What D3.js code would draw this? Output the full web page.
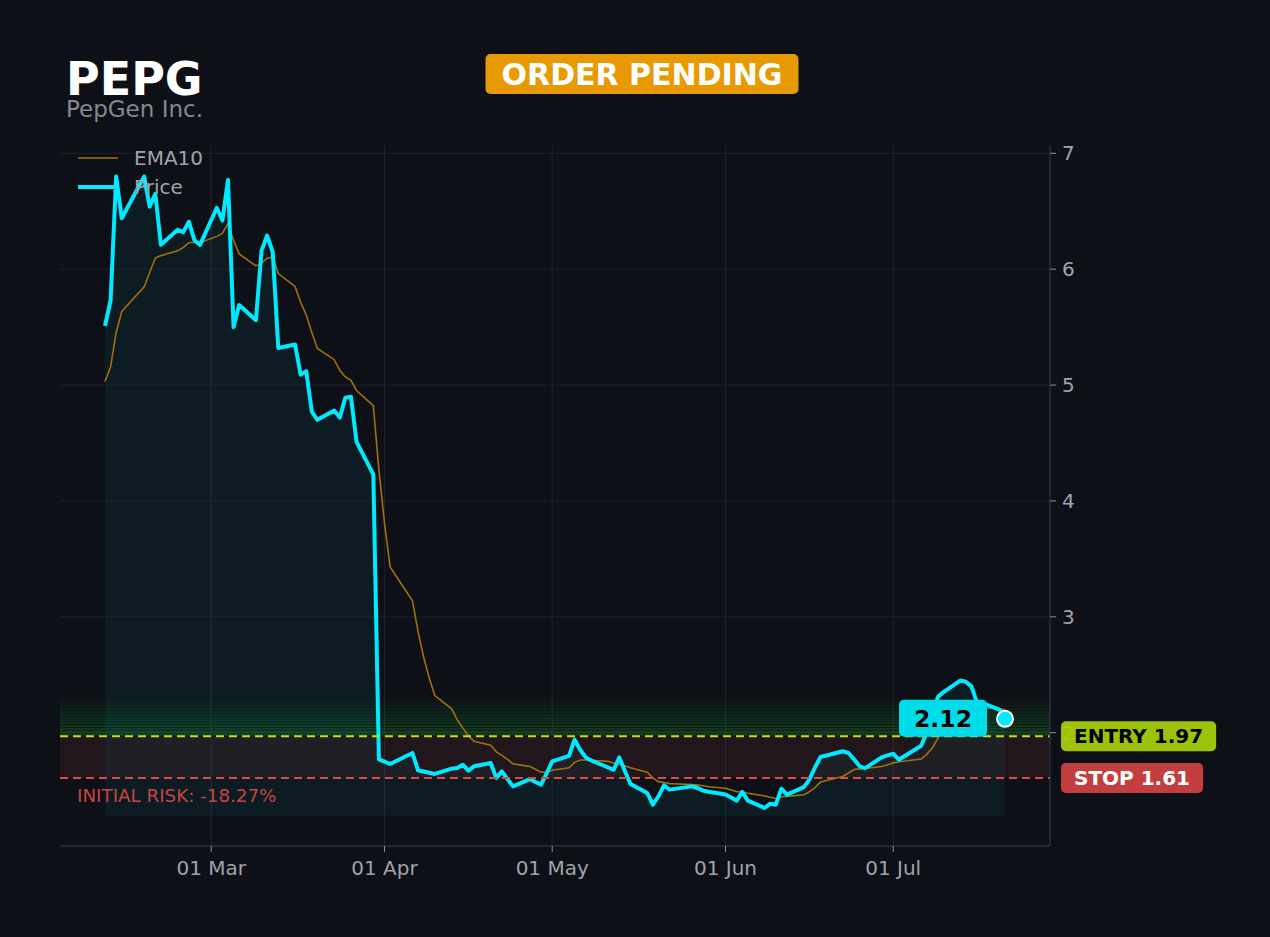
<!DOCTYPE html>
<html>
<head>
<meta charset="utf-8">
<script src="https://cdn.jsdelivr.net/npm/d3@7"></script>
<style>
  body { margin: 0; background: #0d1117; }
  svg { display: block; font-family: "DejaVu Sans", sans-serif; }
</style>
</head>
<body>
<div id="chart"></div>
<script>
// trading days, Feb 10 - Jul 21 (market holidays skipped)
const startDate = "2026-02-10";
const endDate = "2026-07-21";
const holidays = ["2026-02-16", "2026-04-03", "2026-05-25", "2026-06-19", "2026-07-03"];

const price = [
  5.51, 5.73, 6.80, 6.44,
  6.80, 6.54, 6.65, 6.21,
  6.34, 6.32, 6.41, 6.25, 6.21,
  6.53, 6.42, 6.77, 5.50, 5.69,
  5.56, 6.16, 6.29, 6.15, 5.32,
  5.35, 5.09, 5.12, 4.77, 4.70,
  4.78, 4.72, 4.89, 4.90, 4.51,
  4.23, 1.77, 1.75, 1.73,
  1.825, 1.675, 1.665, 1.655, 1.644,
  1.69, 1.695, 1.724, 1.672, 1.71,
  1.739, 1.61, 1.666, 1.60, 1.537,
  1.60, 1.575, 1.552, 1.65, 1.753,
  1.80, 1.94, 1.853, 1.787, 1.76,
  1.70, 1.68, 1.787, 1.67, 1.558,
  1.48, 1.379, 1.45, 1.546, 1.509,
  1.537, 1.523, 1.50, 1.49,
  1.466, 1.44, 1.414, 1.489, 1.414,
  1.35, 1.388, 1.379, 1.517, 1.466,
  1.53, 1.595, 1.70, 1.79,
  1.84, 1.825, 1.77, 1.71, 1.695,
  1.79, 1.805, 1.819, 1.767,
  1.888, 2.00, 2.15, 2.31, 2.35,
  2.45, 2.44, 2.40, 2.26, 2.256,
  2.20, 2.12
];

const ema10 = [
  5.03, 5.157, 5.456, 5.635,
  5.847, 5.973, 6.096, 6.117,
  6.158, 6.187, 6.228, 6.232, 6.228,
  6.283, 6.308, 6.392, 6.25, 6.132,
  6.028, 6.052, 6.095, 6.105, 5.962,
  5.851, 5.713, 5.605, 5.453, 5.316,
  5.219, 5.128, 5.07, 5.04, 4.953,
  4.822, 4.267, 3.809, 3.431,
  3.139, 2.873, 2.653, 2.472, 2.321,
  2.206, 2.113, 2.042, 1.975, 1.927,
  1.893, 1.835, 1.805, 1.77, 1.731,
  1.708, 1.684, 1.66, 1.658, 1.676,
  1.698, 1.744, 1.764, 1.765, 1.762,
  1.753, 1.737, 1.725, 1.715, 1.698,
  1.66, 1.61, 1.578, 1.57, 1.561,
  1.553, 1.548, 1.543, 1.533,
  1.521, 1.506, 1.492, 1.49, 1.478,
  1.455, 1.443, 1.433, 1.447, 1.451,
  1.465, 1.49, 1.527, 1.574,
  1.623, 1.652, 1.682, 1.688, 1.692,
  1.708, 1.724, 1.74, 1.75,
  1.773, 1.813, 1.868, 1.953, 2.03,
  2.102, 2.163, 2.2, 2.212, 2.215,
  2.207, 2.195
];

const yTicks = [2, 3, 4, 5, 6, 7];
const monthTicks = ["2026-03-01", "2026-04-01", "2026-05-01", "2026-06-01", "2026-07-01"];

const ticker = "PEPG";
const company = "PepGen Inc.";
const status = "ORDER PENDING";
const entry = 1.97;
const stop = 1.61;

// build the trading calendar
const parse = d3.utcParse("%Y-%m-%d");
const holidaySet = new Set(holidays);
const dates = d3.utcDay.range(parse(startDate), d3.utcDay.offset(parse(endDate), 1))
  .filter(d => d.getUTCDay() !== 0 && d.getUTCDay() !== 6 && !holidaySet.has(d3.utcFormat("%Y-%m-%d")(d)));

const data = dates.map((d, i) => ({ date: d, price: price[i], ema: ema10[i] }));

const W = 1270, H = 937;
const margin = { left: 60, right: 220, top: 146, bottom: 91 };

const svg = d3.select("#chart").append("svg")
  .attr("width", W)
  .attr("height", H);

svg.append("rect").attr("width", W).attr("height", H).attr("fill", "#0d1117");

const x0 = dates[0], x1 = dates[dates.length - 1];
const pad = (x1 - x0) * 0.05;
const x = d3.scaleUtc()
  .domain([new Date(+x0 - pad), new Date(+x1 + pad)])
  .range([margin.left, W - margin.right]);

const y = d3.scaleLinear()
  .domain([1.0224, 7.063])
  .range([H - margin.bottom, margin.top]);

const plotL = margin.left, plotR = W - margin.right;
const plotT = margin.top, plotB = H - margin.bottom;

// grid
const grid = svg.append("g");
grid.selectAll(".hg").data(yTicks).enter().append("line")
  .attr("x1", plotL).attr("x2", plotR)
  .attr("y1", d => y(d)).attr("y2", d => y(d))
  .attr("stroke", "#1e2228").attr("stroke-width", 1);
grid.selectAll(".vg").data(monthTicks.map(parse)).enter().append("line")
  .attr("x1", d => x(d)).attr("x2", d => x(d))
  .attr("y1", plotT).attr("y2", plotB)
  .attr("stroke", "#1e2228").attr("stroke-width", 1);

// risk band between entry and stop
svg.append("rect")
  .attr("x", plotL).attr("width", plotR - plotL)
  .attr("y", y(entry)).attr("height", y(stop) - y(entry))
  .attr("fill", "#d94040").attr("opacity", 0.1);

// green glow above entry
const bands = d3.range(14);
const bandTop = entry + 0.34;
const bandStep = (bandTop - entry) / bands.length;
svg.append("g").selectAll("rect").data(bands).enter().append("rect")
  .attr("x", plotL).attr("width", plotR - plotL)
  .attr("y", i => y(entry + (i + 1) * bandStep))
  .attr("height", i => y(entry + i * bandStep) - y(entry + (i + 1) * bandStep) - 0.6)
  .attr("fill", "#22b33a")
  .attr("opacity", i => 0.28 * (1 - i / bands.length));

// area under price
const base = d3.min(price) * 0.95;
const area = d3.area()
  .x(d => x(d.date))
  .y0(y(base))
  .y1(d => y(d.price));
svg.append("path").datum(data)
  .attr("d", area)
  .attr("fill", "#00e5ff").attr("opacity", 0.05);

// ema line
const emaLine = d3.line().x(d => x(d.date)).y(d => y(d.ema));
svg.append("path").datum(data)
  .attr("d", emaLine)
  .attr("fill", "none")
  .attr("stroke", "#a0700e")
  .attr("stroke-width", 1.6);

// price line
const priceLine = d3.line().x(d => x(d.date)).y(d => y(d.price));
svg.append("path").datum(data)
  .attr("d", priceLine)
  .attr("fill", "none")
  .attr("stroke", "#00eaff")
  .attr("stroke-width", 4)
  .attr("stroke-linejoin", "round");

// entry / stop lines
svg.append("line")
  .attr("x1", plotL).attr("x2", plotR)
  .attr("y1", y(entry)).attr("y2", y(entry))
  .attr("stroke", "#c6e000").attr("stroke-width", 2)
  .attr("stroke-dasharray", "8,5");
svg.append("line")
  .attr("x1", plotL).attr("x2", plotR)
  .attr("y1", y(stop)).attr("y2", y(stop))
  .attr("stroke", "#e04848").attr("stroke-width", 2)
  .attr("stroke-dasharray", "8,5");

const riskPct = (stop - entry) / entry * 100;
svg.append("text")
  .attr("x", 77).attr("y", y(stop) + 18)
  .attr("dy", "0.35em")
  .attr("font-size", 18.3)
  .attr("fill", "#c94444")
  .text(`INITIAL RISK: ${riskPct.toFixed(2)}%`);

// axes
const yAxis = svg.append("g");
yAxis.append("line")
  .attr("x1", plotR).attr("x2", plotR).attr("y1", plotT).attr("y2", plotB)
  .attr("stroke", "#3a3e45");
const yt = yAxis.selectAll(".yt").data(yTicks).enter().append("g")
  .attr("transform", d => `translate(${plotR},${y(d)})`);
yt.append("line").attr("x2", 6).attr("stroke", "#8a8d93");
yt.append("text")
  .attr("x", 12).attr("dy", "0.35em")
  .attr("font-size", 20).attr("fill", "#a0a3a8")
  .text(d => d);

const xAxis = svg.append("g");
xAxis.append("line")
  .attr("x1", plotL).attr("x2", plotR).attr("y1", plotB).attr("y2", plotB)
  .attr("stroke", "#3a3e45");
const xt = xAxis.selectAll(".xt").data(monthTicks.map(parse)).enter().append("g")
  .attr("transform", d => `translate(${x(d)},${plotB})`);
xt.append("line").attr("y2", 6).attr("stroke", "#8a8d93");
xt.append("text")
  .attr("y", 22).attr("dy", "0.35em")
  .attr("text-anchor", "middle")
  .attr("font-size", 20).attr("fill", "#a0a3a8")
  .text(d => d3.utcFormat("%d %b")(d));

// right side labels
function sideLabel(value, label, bg, fg) {
  const g = svg.append("g").attr("transform", `translate(${plotR + 11},${y(value)})`);
  const rect = g.append("rect").attr("fill", bg).attr("opacity", 0.93).attr("rx", 5);
  const t = g.append("text")
    .attr("x", 13).attr("dy", "0.36em")
    .attr("font-size", 20).attr("font-weight", "bold")
    .attr("fill", fg)
    .text(`${label} ${value.toFixed(2)}`);
  const w = t.node().getComputedTextLength();
  rect.attr("x", 0).attr("y", -15).attr("width", w + 26).attr("height", 30);
}
sideLabel(entry, "ENTRY", "#a8d00a", "#000");
sideLabel(stop, "STOP", "#d24343", "#fff");

// current price tag
const last = data[data.length - 1];
const lx = x(last.date), ly = y(last.price);
const tag = svg.append("g").attr("transform", `translate(${lx - 18},${ly})`);
const tagRect = tag.append("rect").attr("fill", "#00dde8").attr("rx", 5);
const tagText = tag.append("text")
  .attr("text-anchor", "middle").attr("dy", "0.36em")
  .attr("font-size", 23.5).attr("font-weight", "bold")
  .attr("fill", "#000")
  .text(last.price.toFixed(2));
const tw = tagText.node().getComputedTextLength();
tagRect.attr("x", -(tw + 30)).attr("y", -19).attr("width", tw + 30).attr("height", 37);
tagText.attr("x", -(tw + 30) / 2);

svg.append("circle")
  .attr("cx", lx).attr("cy", ly).attr("r", 8)
  .attr("fill", "#00eaff").attr("stroke", "#fff").attr("stroke-width", 2);

// legend
const legend = svg.append("g").attr("transform", "translate(78,158)");
legend.append("line").attr("x2", 40)
  .attr("stroke", "#a0700e").attr("stroke-width", 1.6);
legend.append("text").attr("x", 56).attr("dy", "0.35em")
  .attr("font-size", 20).attr("fill", "#a0a3a8").text("EMA10");
legend.append("line").attr("x2", 40).attr("y1", 29).attr("y2", 29)
  .attr("stroke", "#00eaff").attr("stroke-width", 4);
legend.append("text").attr("x", 56).attr("y", 29).attr("dy", "0.35em")
  .attr("font-size", 20).attr("fill", "#a0a3a8").text("Price");

// title
svg.append("text")
  .attr("x", 66).attr("y", 95)
  .attr("font-size", 46).attr("font-weight", "bold")
  .attr("fill", "#fff")
  .text(ticker);
svg.append("text")
  .attr("x", 66).attr("y", 117)
  .attr("font-size", 23)
  .attr("fill", "#85888d")
  .text(company);

// status badge
const badge = svg.append("g").attr("transform", "translate(642,74)");
const badgeRect = badge.append("rect").attr("fill", "#e89a05").attr("rx", 5);
const badgeText = badge.append("text")
  .attr("text-anchor", "middle").attr("dy", "0.36em")
  .attr("font-size", 30).attr("font-weight", "bold")
  .attr("fill", "#fff")
  .text(status);
const bw = badgeText.node().getComputedTextLength();
badgeRect.attr("x", -bw / 2 - 16).attr("y", -20).attr("width", bw + 32).attr("height", 40);
</script>
</body>
</html>
